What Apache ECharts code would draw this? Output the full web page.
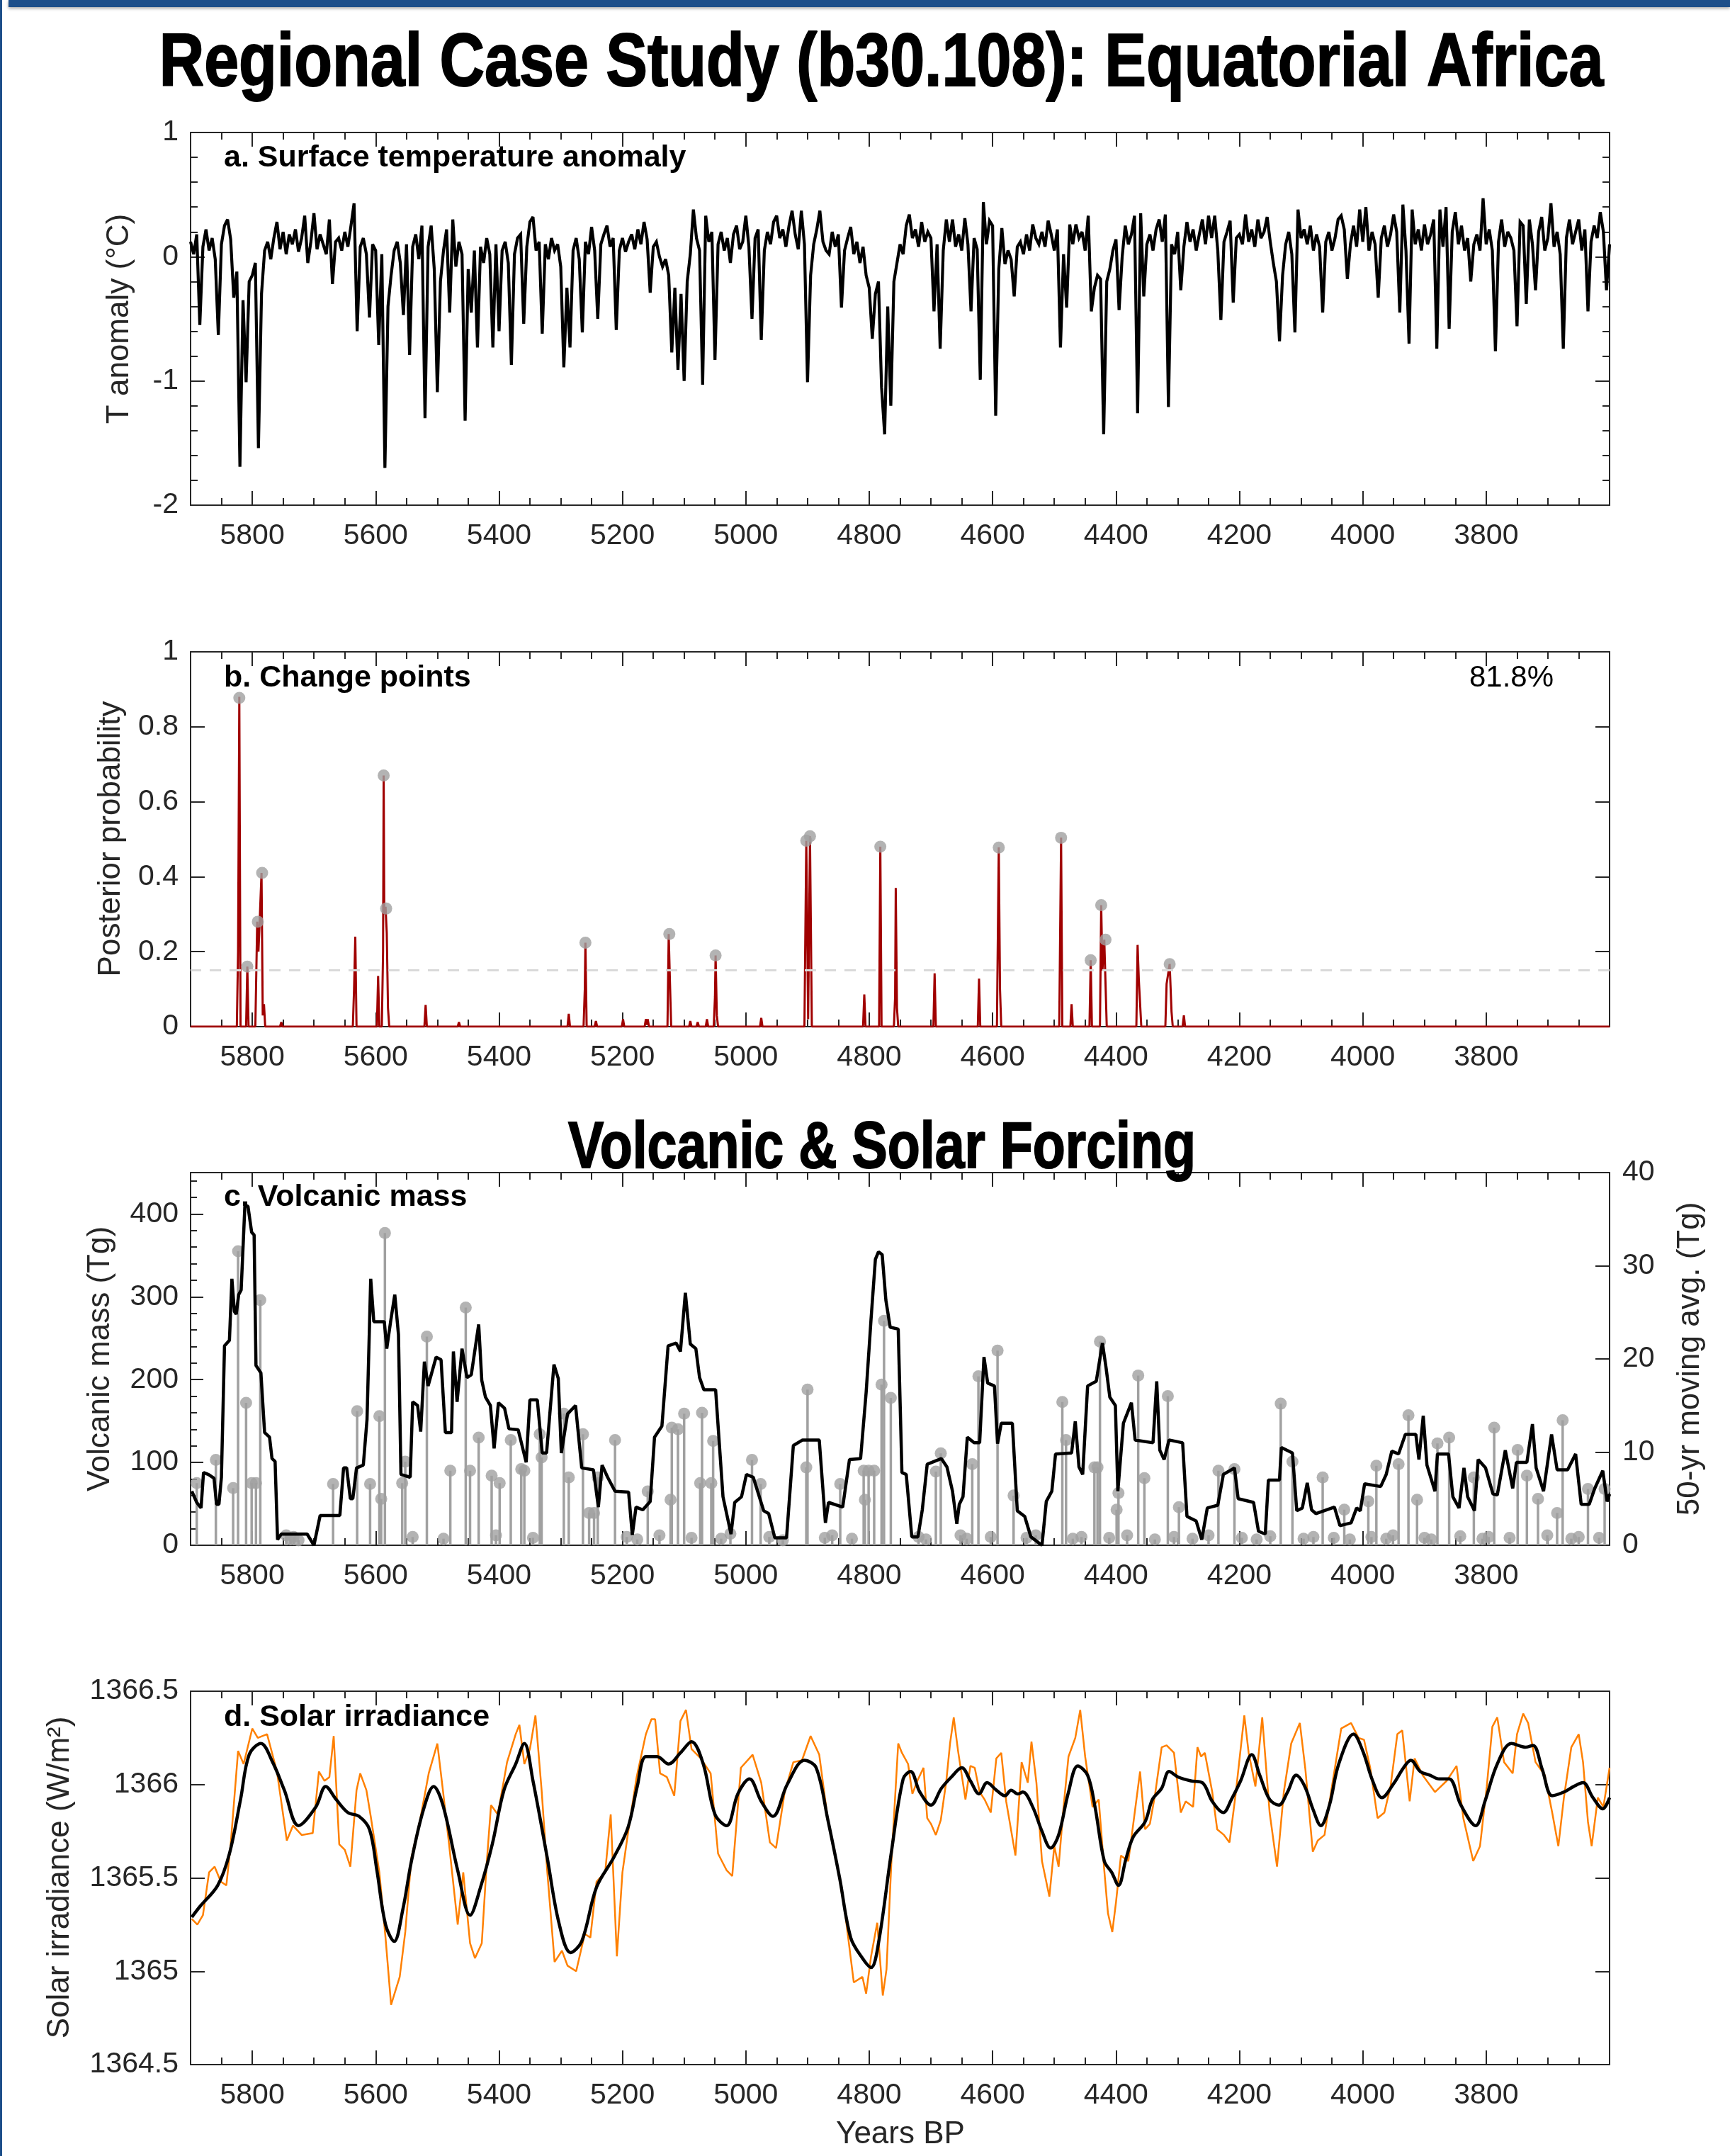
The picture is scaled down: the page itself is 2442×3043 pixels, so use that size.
<!DOCTYPE html>
<html><head><meta charset="utf-8">
<script src="https://cdn.jsdelivr.net/npm/echarts@6/dist/echarts.min.js"></script>
<style>html,body{margin:0;padding:0;background:#fff}#c{width:2442px;height:3043px}</style>
</head><body><div id="c"></div>
<script>
// ---------------- DATA ----------------
const X_MIN = 3600, X_MAX = 5900;
const xTickLabels = [5800, 5600, 5400, 5200, 5000, 4800, 4600, 4400, 4200, 4000, 3800];

// a. Surface temperature anomaly, every 5 years from 5900 BP to 3600 BP
const tempStartYear = 5900, tempStep = 5;
const tempAnomaly = [
 0.12,0.02,0.18,-0.55,0.08,0.22,0.05,0.15,-0.02,-0.63,0.10,0.25,0.30,0.14,-0.33,-0.12,-1.69,-0.35,-1.01,-0.20,
 -0.15,-0.05,-1.54,-0.30,0.05,0.12,-0.02,0.15,0.28,0.06,0.20,0.02,0.18,0.10,0.22,0.04,0.15,0.33,-0.05,0.12,
 0.35,0.06,0.18,0.10,0.02,0.30,-0.22,0.12,0.15,0.05,0.20,0.08,0.25,0.43,-0.60,0.08,0.15,0.02,-0.49,0.10,
 0.05,-0.71,0.02,-1.70,-0.40,-0.15,0.05,0.12,-0.05,-0.47,0.10,-0.79,0.08,0.18,-0.02,0.25,-1.30,0.08,0.25,-0.10,
 -1.09,-0.20,0.05,0.22,-0.45,0.30,-0.08,0.12,0.02,-1.32,-0.10,-0.45,0.05,-0.73,0.08,-0.05,0.15,0.02,-0.73,0.10,
 -0.60,0.05,0.12,-0.05,-0.87,0.02,0.15,0.18,-0.54,0.08,0.28,0.32,0.05,0.12,-0.62,0.10,-0.02,0.15,0.05,0.10,
 -0.08,-0.89,-0.25,-0.73,0.05,0.15,-0.02,-0.61,0.12,0.02,0.24,0.05,-0.50,0.10,0.18,0.25,0.08,0.15,-0.59,0.05,
 0.15,0.04,0.12,0.18,0.06,0.22,0.10,0.28,0.14,-0.29,0.08,0.12,0.00,-0.08,-0.02,-0.15,-0.77,-0.25,-0.91,-0.30,
 -1.00,-0.20,0.02,0.38,0.15,0.05,-1.03,0.33,0.12,0.20,-0.83,0.10,0.20,0.05,0.15,-0.05,0.18,0.25,0.06,0.12,
 0.33,0.08,-0.50,0.15,0.22,-0.67,0.05,0.20,0.10,0.28,0.33,0.15,0.22,0.08,0.25,0.37,0.18,0.06,0.37,0.10,
 -1.01,-0.15,0.10,0.22,0.37,0.12,0.05,0.02,0.20,0.08,0.18,-0.41,0.05,0.15,0.24,0.02,0.12,-0.05,0.08,-0.15,
 -0.25,-0.66,-0.30,-0.20,-1.05,-1.43,-0.40,-1.20,-0.20,-0.05,0.10,0.02,0.25,0.34,0.15,0.22,0.08,0.28,0.12,0.20,
 0.15,-0.44,0.10,-0.74,0.05,0.30,0.12,0.30,0.08,0.18,0.05,0.31,0.10,-0.44,0.15,0.06,-0.99,0.44,0.10,0.29,
 0.25,-1.28,-0.10,0.23,-0.06,0.05,-0.02,-0.32,0.08,0.12,0.02,0.18,0.05,0.26,0.15,0.10,0.20,0.08,0.29,0.18,
 0.05,0.22,-0.73,0.02,-0.41,0.26,0.10,0.26,0.15,0.20,0.05,0.33,-0.44,-0.25,-0.15,-0.18,-1.43,-0.20,-0.10,0.05,
 0.14,-0.43,0.00,0.25,0.10,0.18,0.33,-1.26,0.35,-0.32,0.10,0.18,0.05,0.22,0.30,0.12,0.34,-1.21,0.10,0.02,
 0.20,-0.27,0.08,0.28,0.12,0.22,0.05,0.18,0.30,0.10,0.33,0.15,0.33,0.05,-0.51,0.12,0.20,0.29,-0.37,0.15,
 0.18,0.10,0.34,0.12,0.22,0.08,0.30,0.15,0.20,0.32,0.12,-0.05,-0.20,-0.68,-0.15,0.10,0.20,0.02,-0.61,0.38,
 0.15,0.22,0.10,0.25,0.05,0.18,0.08,-0.45,0.12,0.20,0.05,0.15,0.30,0.33,0.22,-0.18,0.10,0.25,0.08,0.38,
 0.12,0.40,0.05,0.20,0.10,-0.33,0.15,0.25,0.08,0.18,0.34,0.20,-0.45,0.42,0.05,-0.70,0.38,0.10,0.22,0.05,
 0.26,0.10,0.18,0.30,-0.74,0.38,0.08,0.40,-0.58,0.20,0.36,0.10,0.25,0.05,0.15,-0.20,0.10,0.18,0.05,0.47,
 0.10,0.22,0.05,-0.76,0.12,0.30,0.08,0.20,0.15,0.05,-0.56,0.28,0.25,-0.38,0.30,0.10,-0.27,0.20,0.32,0.05,
 0.15,0.43,0.08,0.20,0.02,-0.74,0.15,0.30,0.10,0.20,0.30,0.05,0.22,-0.44,0.12,0.25,0.15,0.36,0.20,-0.27,0.10
];

// b. Change points (posterior probability)
const cpYears = [5900,
 5825,5823,5821,5819, 5810,5808,5806, 5795,5792,5790,5788,5785,5783,5781,5779, 5755,5753,5751,
 5637,5635,5633,5631, 5598,5596,5594, 5590,5588,5587,5586,5584,5582,5580,5578, 5521,5519,5517,
 5467,5465,5463, 5289,5287,5285, 5263,5261,5260,5258, 5245,5243,5241, 5201,5199,5197,
 5164,5162,5160,5159,5157, 5127,5125,5123,5121, 5092,5090,5088, 5080,5078,5076, 5065,5063,5061,
 5052,5050,5049,5047,5045, 4977,4975,4973, 4905,4902,4899,4896,4893, 4810,4808,4806, 4784,4782,4780,
 4760,4758,4757,4755,4753, 4696,4694,4692, 4624,4622,4620, 4593,4591,4590,4588,4586, 4492,4489,4487,
 4474,4472,4470, 4443,4441,4439, 4426,4424,4422,4419,4417,4415, 4367,4365,4363,4361,4359,
 4320,4318,4313,4310,4308, 4292,4290,4288, 3600];
const cpProb = [0,
 0,0.20,0.88,0, 0,0.16,0, 0,0.28,0.20,0.28,0.41,0.03,0.06,0, 0,0.012,0,
 0,0.10,0.24,0, 0,0.135,0, 0,0.20,0.67,0.30,0.32,0.25,0.05,0, 0,0.058,0,
 0,0.012,0, 0,0.034,0, 0,0.10,0.224,0, 0,0.015,0, 0,0.02,0,
 0,0.02,0.005,0.02,0, 0,0.247,0.12,0, 0,0.015,0, 0,0.012,0, 0,0.02,0,
 0,0.08,0.19,0.03,0, 0,0.023,0, 0,0.496,0.02,0.508,0, 0,0.086,0, 0,0.48,0,
 0,0.08,0.37,0.05,0, 0,0.142,0, 0,0.128,0, 0,0.326,0.478,0.10,0, 0,0.504,0,
 0,0.06,0, 0,0.177,0, 0,0.324,0.15,0.232,0.232,0, 0,0.218,0.125,0.125,0,
 0,0.114,0.167,0.04,0, 0,0.03,0, 0];
const cpMarkYears = [5821,5808,5791,5784,5587,5583,5260,5124,5049,4902,4896,4782,4590,4489,4441,4424,4417,4313];
const cpMarkProb  = [0.877,0.16,0.28,0.41,0.67,0.315,0.224,0.247,0.19,0.496,0.508,0.48,0.478,0.504,0.177,0.324,0.232,0.167];
const cpThreshold = 0.15;
const cpPercent = '81.8%';

// c. Volcanic mass (Tg) eruptions
const volcYears = [5890,5859,5831,5823,5810,5801,5794,5787,5745,5738,5733,5725,5669,5630,5609,5594,5591,5585,5557,5552,
 5540,5517,5490,5479,5454,5447,5433,5412,5405,5399,5381,5364,5359,5345,5334,5331,5295,5287,5264,5254,
 5246,5240,5212,5193,5176,5159,5140,5122,5120,5110,5100,5088,5074,5071,5056,5053,5040,5025,4990,4976,
 4962,4940,4902,4900,4872,4860,4847,4828,4809,4807,4801,4792,4780,4776,4765,4720,4708,4692,4684,4652,
 4642,4633,4623,4603,4592,4566,4545,4530,4487,4481,4470,4456,4435,4430,4426,4411,4399,4396,4382,4364,
 4354,4337,4316,4306,4298,4276,4250,4234,4208,4196,4172,4150,4133,4114,4096,4080,4065,4047,4030,4021,
 3991,3986,3978,3962,3951,3942,3926,3912,3900,3889,3879,3860,3842,3820,3806,3796,3787,3762,3749,3734,
 3716,3701,3685,3676,3662,3650,3635,3617,3608];
const volcMass = [75,103,69,355,172,75,75,296,12,8,10,6,74,162,74,156,56,377,75,101,
 10,252,8,90,287,90,130,84,12,75,127,92,90,9,134,106,159,82,134,39,
 39,82,127,10,7,65,12,55,142,140,159,9,75,160,75,126,8,14,103,74,
 10,6,94,188,9,12,74,8,90,55,90,90,194,271,178,10,7,89,111,12,
 8,98,204,10,235,60,9,12,173,127,8,10,94,94,246,9,43,63,12,205,
 81,7,180,10,46,8,12,90,92,9,7,11,171,101,8,10,82,9,43,7,
 53,10,96,8,12,98,157,55,9,7,123,130,11,82,8,10,142,9,115,84,
 56,12,39,151,8,10,68,9,68];

// c. 50-yr moving average (Tg)
const mvYears = [5898,5890,5883,5879,5871,5862,5858,5854,5850,5845,5837,5833,5829,5826,5822,5818,5812,5807,5801,5797,
 5794,5786,5780,5772,5768,5763,5759,5753,5711,5700,5690,5658,5652,5647,5641,5637,5631,5620,5614,5608,
 5603,5586,5582,5576,5569,5563,5559,5544,5540,5532,5527,5521,5515,5502,5494,5487,5477,5474,5468,5460,
 5452,5445,5433,5428,5422,5414,5408,5401,5391,5384,5369,5356,5350,5338,5330,5323,5311,5304,5299,5289,
 5276,5266,5247,5239,5233,5224,5212,5190,5184,5178,5167,5155,5148,5136,5126,5113,5106,5098,5090,5081,
 5075,5068,5049,5037,5024,5018,5007,4999,4988,4971,4963,4953,4934,4923,4908,4881,4871,4866,4843,4832,
 4814,4805,4797,4790,4785,4779,4773,4766,4753,4747,4740,4731,4721,4714,4706,4683,4674,4665,4658,4654,
 4648,4641,4630,4621,4614,4608,4597,4592,4586,4568,4560,4548,4538,4520,4513,4504,4498,4472,4466,4460,
 4454,4446,4432,4422,4416,4410,4401,4397,4388,4375,4369,4340,4334,4329,4322,4314,4292,4285,4270,4261,
 4252,4235,4226,4208,4202,4177,4169,4158,4153,4135,4132,4114,4107,4098,4090,4083,4076,4046,4037,4019,
 4010,4004,3997,3971,3962,3953,3942,3931,3914,3909,3902,3896,3883,3879,3861,3854,3844,3836,3830,3819,
 3813,3801,3789,3782,3769,3757,3751,3734,3725,3719,3707,3694,3685,3668,3655,3646,3633,3624,3611,3604,3600];
const mvAvg = [5.8,4.6,4.0,7.8,7.6,7.2,4.4,4.4,7.3,21.4,22.0,28.6,25.1,24.8,26.9,27.4,36.4,36.4,33.6,33.3,
 19.3,18.5,12.1,11.6,9.3,9.0,0.6,1.2,1.2,0.0,3.2,3.2,8.3,8.3,5.0,5.0,8.3,8.6,13.5,28.6,
 24.0,24.0,21.1,23.9,26.9,22.6,7.6,7.3,15.4,15.0,12.2,19.7,17.1,20.2,19.9,12.1,12.1,20.8,15.4,21.1,
 18.0,18.3,23.7,17.7,15.9,15.0,10.4,15.3,14.7,12.5,12.4,8.9,15.6,15.6,9.9,9.9,19.4,17.9,9.9,14.1,
 15.0,8.3,8.1,4.1,8.6,7.3,5.8,5.7,1.1,4.1,3.8,4.7,11.6,12.8,21.4,21.7,20.8,27.1,21.6,21.1,
 18.0,16.7,16.7,5.2,1.2,4.6,5.2,7.6,7.3,3.7,3.4,0.8,0.8,10.7,11.3,11.3,2.4,4.6,4.1,9.2,
 9.3,16.4,24.3,30.7,31.5,31.2,26.3,23.4,23.2,7.8,7.6,0.9,0.9,3.8,8.7,9.3,8.4,5.8,2.3,4.4,
 5.2,11.6,11.0,11.0,20.2,17.4,17.1,10.9,13.1,13.1,3.7,3.1,0.9,0.0,4.7,5.8,9.8,9.9,13.3,8.4,
 7.6,17.1,17.6,21.7,19.0,15.9,15.0,5.8,13.1,15.3,11.3,11.0,17.6,10.2,9.2,11.3,11.0,3.1,2.6,0.6,
 4.0,4.3,7.6,8.3,5.0,4.6,1.5,1.2,7.0,7.0,10.5,9.9,3.7,4.0,6.7,3.8,3.4,4.1,2.1,2.4,
 4.0,3.7,6.6,6.3,7.6,10.1,9.8,11.9,11.9,9.2,13.9,8.6,5.8,9.8,9.8,5.2,4.0,8.3,5.2,3.7,
 9.2,8.3,5.5,5.4,10.2,6.1,8.9,8.9,13.0,8.3,5.8,11.9,8.1,8.1,9.8,4.4,4.4,6.1,8.0,4.7,5.5];

// d. Solar irradiance (W/m^2)
const tsiYears = [5898,5889,5880,5870,5861,5851,5842,5835,5823,5814,5800,5791,5776,5760,5744,5734,5720,5702,5692,5683,
 5675,5668,5659,5650,5641,5631,5625,5615,5608,5594,5584,5575,5561,5552,5542,5528,5514,5500,5491,5481,
 5467,5458,5447,5439,5428,5420,5413,5402,5387,5373,5367,5359,5350,5341,5331,5322,5310,5298,5289,5275,
 5261,5252,5242,5228,5219,5209,5200,5191,5177,5162,5153,5147,5139,5128,5116,5106,5097,5088,5073,5057,
 5045,5031,5022,5008,4989,4975,4961,4951,4937,4923,4909,4895,4881,4867,4853,4839,4825,4811,4805,4797,
 4787,4778,4772,4764,4753,4747,4737,4730,4722,4712,4706,4700,4692,4684,4675,4669,4663,4656,4644,4636,
 4629,4621,4613,4603,4594,4586,4578,4563,4553,4543,4537,4529,4520,4508,4500,4493,4485,4477,4466,4458,
 4450,4438,4428,4419,4413,4406,4400,4392,4380,4372,4361,4353,4345,4337,4326,4318,4306,4295,4287,4275,
 4268,4262,4256,4244,4236,4225,4216,4206,4192,4185,4174,4163,4151,4139,4128,4116,4102,4093,4081,4073,
 4062,4050,4035,4019,4007,3998,3988,3976,3965,3955,3944,3936,3924,3916,3903,3883,3864,3848,3837,3821,
 3810,3799,3790,3782,3771,3757,3750,3740,3732,3720,3705,3693,3683,3674,3662,3650,3643,3635,3629,3619,3610,3600];
const tsiValues = [1365.28,1365.25,1365.30,1365.53,1365.56,1365.48,1365.46,1365.68,1366.18,1366.11,1366.30,1366.25,1366.27,1366.07,1365.70,1365.78,1365.73,1365.74,1366.07,1366.02,
 1366.04,1366.26,1365.68,1365.65,1365.56,1365.97,1366.06,1365.97,1365.83,1365.53,1365.18,1364.82,1364.97,1365.21,1365.61,1365.81,1366.06,1366.22,1365.97,1365.68,
 1365.25,1365.53,1365.15,1365.07,1365.15,1365.58,1365.89,1365.84,1366.12,1366.27,1366.32,1366.11,1366.19,1366.37,1365.97,1365.54,1365.05,1365.11,1365.03,1365.00,
 1365.20,1365.18,1365.48,1365.53,1365.84,1365.08,1365.53,1365.74,1366.04,1366.27,1366.35,1366.35,1366.06,1366.04,1365.94,1366.34,1366.40,1366.19,1366.14,1366.06,
 1365.63,1365.54,1365.51,1366.09,1366.16,1366.01,1365.69,1365.66,1365.96,1366.12,1366.13,1366.26,1366.16,1365.81,1365.59,1365.31,1364.94,1364.97,1364.88,1365.08,
 1365.26,1364.87,1365.01,1365.59,1366.22,1366.17,1366.11,1365.95,1366.02,1366.09,1365.82,1365.79,1365.73,1365.81,1366.02,1366.22,1366.36,1366.18,1365.92,1366.10,
 1366.09,1365.96,1365.92,1365.85,1366.14,1366.17,1365.91,1365.62,1366.12,1366.01,1366.23,1366.01,1365.59,1365.40,1365.67,1365.56,1365.88,1366.15,1366.25,1366.40,
 1366.15,1365.88,1365.92,1365.54,1365.31,1365.21,1365.37,1365.62,1365.59,1365.79,1366.07,1365.76,1365.79,1365.94,1366.20,1366.21,1366.17,1365.85,1365.91,1365.88,
 1366.20,1366.15,1366.17,1365.96,1365.76,1365.73,1365.69,1365.95,1366.37,1366.17,1365.99,1366.36,1365.85,1365.56,1365.96,1366.22,1366.33,1366.08,1365.64,1365.70,
 1365.73,1365.99,1366.30,1366.33,1366.25,1366.24,1366.09,1365.82,1365.85,1365.99,1366.27,1366.29,1365.91,1366.14,1366.05,1365.96,1366.02,1366.10,1365.82,1365.59,
 1365.67,1365.99,1366.31,1366.36,1366.12,1366.06,1366.27,1366.38,1366.33,1366.12,1366.05,1365.85,1365.67,1365.93,1366.20,1366.27,1366.12,1365.80,1365.67,1365.93,1365.88,1366.09];

const tsiSmoothYears = [5898,5884,5856,5837,5819,5805,5786,5767,5748,5725,5697,5681,5664,5645,5627,5610,5598,5584,5570,5556,
 5542,5523,5506,5491,5467,5447,5430,5411,5392,5373,5359,5345,5322,5303,5284,5266,5242,5214,5191,5176,
 5162,5144,5125,5106,5088,5069,5050,5031,5013,4994,4975,4956,4933,4905,4886,4867,4848,4830,4811,4797,
 4785,4764,4745,4733,4718,4700,4683,4667,4650,4636,4622,4609,4594,4580,4570,4559,4551,4535,4520,4506,
 4493,4477,4462,4446,4434,4419,4407,4396,4384,4372,4353,4341,4326,4314,4299,4279,4260,4244,4226,4213,
 4198,4180,4167,4151,4136,4122,4108,4094,4081,4068,4054,4039,4015,4000,3984,3969,3949,3934,3922,3907,
 3891,3876,3860,3841,3817,3802,3782,3759,3736,3724,3709,3693,3674,3658,3643,3627,3611,3600];
const tsiSmooth = [1365.29,1365.35,1365.46,1365.63,1365.92,1366.16,1366.22,1366.12,1365.97,1365.78,1365.88,1365.99,1365.92,1365.85,1365.83,1365.76,1365.54,1365.25,1365.16,1365.33,
 1365.59,1365.86,1365.99,1365.89,1365.54,1365.30,1365.45,1365.68,1365.97,1366.11,1366.22,1366.02,1365.61,1365.26,1365.10,1365.16,1365.45,1365.61,1365.77,1365.99,
 1366.15,1366.15,1366.11,1366.17,1366.23,1366.11,1365.84,1365.78,1365.95,1366.03,1365.91,1365.83,1366.00,1366.13,1366.09,1365.81,1365.50,1365.18,1365.07,1365.02,
 1365.15,1365.64,1366.03,1366.07,1365.96,1365.89,1365.98,1366.04,1366.09,1366.02,1365.95,1366.01,1365.97,1365.94,1365.97,1365.95,1365.96,1365.88,1365.75,1365.66,
 1365.73,1365.96,1366.10,1366.05,1365.88,1365.59,1365.53,1365.46,1365.60,1365.72,1365.80,1365.92,1365.98,1366.07,1366.04,1366.02,1366.01,1365.91,1365.85,1365.92,
 1366.02,1366.16,1366.05,1365.92,1365.89,1365.96,1366.05,1365.99,1365.87,1365.78,1365.89,1366.11,1366.27,1366.18,1366.02,1365.93,1366.01,1366.09,1366.13,1366.07,
 1366.05,1366.03,1366.03,1365.89,1365.78,1365.91,1366.11,1366.22,1366.20,1366.21,1366.08,1365.94,1365.96,1365.99,1366.01,1365.93,1365.87,1365.93];

// ---------------- LAYOUT / STYLE ----------------
const AXC = '#262626';
const FF = '"Liberation Sans", Arial, Helvetica, sans-serif';
const grids = [
  {left: 269, top: 187, width: 2003, height: 526},
  {left: 269, top: 920, width: 2003, height: 529},
  {left: 269, top: 1655, width: 2003, height: 526},
  {left: 269, top: 2387, width: 2003, height: 527}
];
const zip = (xs, ys) => xs.map((x, i) => [x, ys[i]]);
const tempData = tempAnomaly.map((v, i) => [tempStartYear - i * tempStep, v]);

const xAxis = [], yAxis = [];
const lbl = {color: AXC, fontSize: 41, fontFamily: FF};
function xa(g, pos, interval, len, showLine, showLabel) {
  xAxis.push({
    gridIndex: g, type: 'value', min: X_MIN, max: X_MAX, inverse: true, interval: interval, position: pos,
    axisLine: {show: showLine, onZero: false, lineStyle: {color: AXC, width: 2}},
    axisTick: {show: true, inside: true, length: len, lineStyle: {color: AXC, width: 2}},
    axisLabel: showLabel ? Object.assign({show: true, margin: 23, interval: 0,
      formatter: v => xTickLabels.indexOf(v) >= 0 ? String(v) : ''}, lbl) : {show: false},
    splitLine: {show: false}
  });
  return xAxis.length - 1;
}
function ya(g, pos, min, max, interval, len, showLine, fmt) {
  yAxis.push({
    gridIndex: g, type: 'value', min: min, max: max, interval: interval, position: pos,
    axisLine: {show: showLine, onZero: false, lineStyle: {color: AXC, width: 2}},
    axisTick: {show: true, inside: true, length: len, lineStyle: {color: AXC, width: 2}},
    axisLabel: fmt ? Object.assign({show: true, margin: 17, interval: 0, formatter: fmt}, lbl) : {show: false},
    splitLine: {show: false}
  });
  return yAxis.length - 1;
}
const XI = [];
for (let g = 0; g < 4; g++) {
  XI.push(xa(g, 'bottom', 50, 10, true, false));
  xa(g, 'bottom', 200, 20, false, true);
  xa(g, 'top', 50, 10, true, false);
  xa(g, 'top', 200, 20, false, false);
}
const r = v => String(+(+v).toFixed(2));
// panel a
const YA = ya(0, 'left', -2, 1, 1, 20, true, r);
ya(0, 'left', -2, 1, 0.2, 10, false, null);
ya(0, 'right', -2, 1, 1, 20, true, null);
ya(0, 'right', -2, 1, 0.2, 10, false, null);
// panel b
const YB = ya(1, 'left', 0, 1, 0.2, 20, true, r);
ya(1, 'right', 0, 1, 0.2, 20, true, null);
// panel c
const YC = ya(2, 'left', 0, 450, 100, 18, true, v => v > 400 ? '' : String(v));
ya(2, 'left', 0, 450, 20, 9, false, null);
const YC2 = yAxis.length;
yAxis.push({
  gridIndex: 2, type: 'value', min: 0, max: 40, interval: 10, position: 'right',
  axisLine: {show: true, onZero: false, lineStyle: {color: AXC, width: 2}},
  axisTick: {show: true, inside: true, length: 20, lineStyle: {color: AXC, width: 2}},
  axisLabel: Object.assign({show: true, margin: 18}, lbl), splitLine: {show: false}
});
// panel d
const YD = ya(3, 'left', 1364.5, 1366.5, 0.5, 20, true, r);
ya(3, 'right', 1364.5, 1366.5, 0.5, 20, true, null);

const GREY = '#a0a0a0';
const series = [
  {type: 'line', xAxisIndex: XI[0], yAxisIndex: YA, data: tempData, symbol: 'none',
   lineStyle: {color: '#000', width: 4.2, join: 'miter', miterLimit: 3}, z: 3},
  {type: 'line', xAxisIndex: XI[1], yAxisIndex: YB, data: [], symbol: 'none', z: 1,
   markLine: {silent: true, symbol: 'none', label: {show: false},
     lineStyle: {color: '#d9d9d9', width: 3, type: [16, 12]}, data: [{yAxis: cpThreshold}]}},
  {type: 'line', xAxisIndex: XI[1], yAxisIndex: YB, data: zip(cpYears, cpProb), symbol: 'none',
   lineStyle: {color: '#a00000', width: 3}, z: 3},
  {type: 'scatter', xAxisIndex: XI[1], yAxisIndex: YB, data: zip(cpMarkYears, cpMarkProb),
   symbol: 'circle', symbolSize: 17, itemStyle: {color: GREY}, z: 4},
  {type: 'bar', xAxisIndex: XI[2], yAxisIndex: YC, data: zip(volcYears, volcMass), barWidth: 3.5,
   itemStyle: {color: GREY}, z: 2},
  {type: 'scatter', xAxisIndex: XI[2], yAxisIndex: YC, data: zip(volcYears, volcMass),
   symbol: 'circle', symbolSize: 17, itemStyle: {color: GREY}, z: 2},
  {type: 'line', xAxisIndex: XI[2], yAxisIndex: YC2, data: zip(mvYears, mvAvg), symbol: 'none',
   lineStyle: {color: '#000', width: 4.5}, z: 3},
  {type: 'line', xAxisIndex: XI[3], yAxisIndex: YD, data: zip(tsiYears, tsiValues), symbol: 'none',
   lineStyle: {color: '#ff8000', width: 2.5}, z: 2},
  {type: 'line', xAxisIndex: XI[3], yAxisIndex: YD, data: zip(tsiSmoothYears, tsiSmooth), symbol: 'none',
   smooth: 0.35, lineStyle: {color: '#000', width: 4.5}, z: 3}
];

function txt(text, x, y, font, opts) {
  return Object.assign({type: 'text', x: x, y: y, z: 100, silent: true,
    style: Object.assign({text: text, font: font, fill: '#000', align: 'left', verticalAlign: 'middle',
      textAlign: 'left', textVerticalAlign: 'middle'}, (opts && opts.style) || {})},
    (opts && opts.el) || {});
}
const center = {align: 'center', textAlign: 'center'};
const graphic = [
  {type: 'rect', z: 100, shape: {x: 0, y: 0, width: 3, height: 3043}, style: {fill: '#1d4f8a'}},
  {type: 'rect', z: 100, shape: {x: 12, y: 0, width: 2430, height: 10},
   style: {fill: '#1d4f8a', shadowBlur: 4, shadowOffsetY: 2, shadowColor: 'rgba(0,0,0,0.35)'}},
  txt('Regional Case Study (b30.108): Equatorial Africa', 1244, 92, 'bold 106px ' + FF,
      {el: {scaleX: 0.83}, style: Object.assign({stroke: '#000', lineWidth: 2}, center)}),
  txt('Volcanic & Solar Forcing', 1245, 1622, 'bold 93px ' + FF,
      {el: {scaleX: 0.81}, style: Object.assign({stroke: '#000', lineWidth: 2}, center)}),
  txt('a. Surface temperature anomaly', 316, grids[0].top + 36, 'bold 43px ' + FF),
  txt('b. Change points', 316, grids[1].top + 37, 'bold 43px ' + FF),
  txt('c. Volcanic mass', 316, grids[2].top + 35, 'bold 43px ' + FF),
  txt('d. Solar irradiance', 316, grids[3].top + 37, 'bold 43px ' + FF),
  txt(cpPercent, 2193, grids[1].top + 37, '42px ' + FF, {style: {align: 'right', textAlign: 'right'}}),
  txt('T anomaly (°C)', 169, 450, '44px ' + FF, {el: {rotation: Math.PI / 2}, style: Object.assign({fill: AXC}, center)}),
  txt('Posterior probability', 157, 1184, '44px ' + FF, {el: {rotation: Math.PI / 2}, style: Object.assign({fill: AXC}, center)}),
  txt('Volcanic mass (Tg)', 142, 1918, '44px ' + FF, {el: {rotation: Math.PI / 2}, style: Object.assign({fill: AXC}, center)}),
  txt('Solar irradiance (W/m²)', 85, 2650, '44px ' + FF, {el: {rotation: Math.PI / 2}, style: Object.assign({fill: AXC}, center)}),
  txt('50-yr moving avg. (Tg)', 2386, 1918, '44px ' + FF, {el: {rotation: Math.PI / 2}, style: Object.assign({fill: AXC}, center)}),
  txt('Years BP', 1271, 3013, '44px ' + FF, {style: Object.assign({fill: AXC}, center)})
];

const chart = echarts.init(document.getElementById('c'));
chart.setOption({
  animation: false,
  backgroundColor: '#fff',
  grid: grids,
  xAxis: xAxis,
  yAxis: yAxis,
  series: series,
  graphic: graphic
});
</script></body></html>
